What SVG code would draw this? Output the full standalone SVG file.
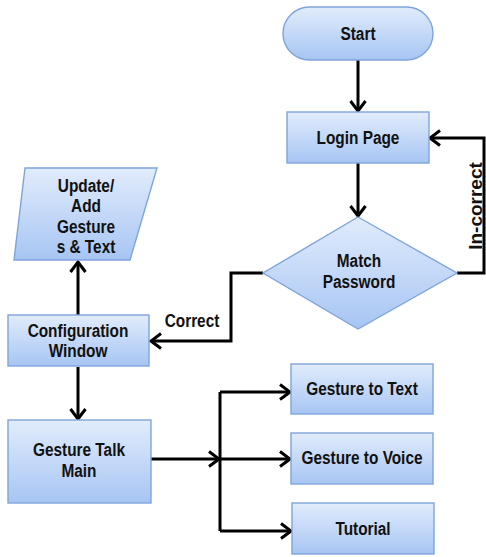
<svg xmlns="http://www.w3.org/2000/svg" width="486" height="557" viewBox="0 0 486 557">
<defs>
<linearGradient id="g" x1="0" y1="0" x2="0" y2="1">
<stop offset="0" stop-color="#e1ecfc"/>
<stop offset="1" stop-color="#a7c5f3"/>
</linearGradient>
<marker id="ah" markerUnits="userSpaceOnUse" markerWidth="14" markerHeight="18" viewBox="0 0 14 18" refX="12" refY="9" orient="auto">
<path d="M2,1.5 L12,9 L2,16.5" fill="none" stroke="#000" stroke-width="3" stroke-linejoin="miter"/>
</marker>
</defs>
<style>
.n{fill:url(#g);stroke:#7fa4dc;stroke-width:1.4}
.t{font-family:"Liberation Sans",Arial,sans-serif;font-weight:bold;font-size:19px;fill:#111;text-anchor:middle}
.c{fill:none;stroke:#000;stroke-width:3}
.a{marker-end:url(#ah)}
</style>
<rect width="486" height="557" fill="#fff"/>
<g id="connectors">
<path class="c a" d="M358,60 V111"/>
<path class="c a" d="M358,163 V216"/>
<path class="c a" d="M457,273 H484 V138 H430"/>
<path class="c a" d="M263,273 H231 V341 H151"/>
<path class="c a" d="M78,316 V262"/>
<path class="c a" d="M78,367 V419"/>
<path class="c a" d="M151,459 H219"/>
<path class="c" d="M220,392 V531"/>
<path class="c a" d="M220,392 H290"/>
<path class="c a" d="M220,459 H290"/>
<path class="c a" d="M220,531 H291"/>
<text class="t" transform="translate(482,206) rotate(-90)">In-correct</text>
<text class="t" transform="translate(192,327) scale(0.81,1)">Correct</text>
</g>
<g id="start">
<rect class="n" x="283" y="7" width="150" height="53" rx="26.5"/>
<text class="t" transform="translate(358,40) scale(0.81,1)">Start</text>
</g>
<g id="login">
<rect class="n" x="287" y="112" width="142" height="51"/>
<text class="t" transform="translate(358,144) scale(0.81,1)">Login Page</text>
</g>
<g id="match">
<polygon class="n" points="358,217 457,273 358,329 263,273"/>
<text class="t" transform="translate(359,267) scale(0.81,1)">Match</text>
<text class="t" transform="translate(359,288) scale(0.81,1)">Password</text>
</g>
<g id="update">
<polygon class="n" points="25,168 157,168 130,260 14,260"/>
<text class="t" transform="translate(86,192) scale(0.81,1)">Update/</text>
<text class="t" transform="translate(86,212) scale(0.81,1)">Add</text>
<text class="t" transform="translate(86,233) scale(0.81,1)">Gesture</text>
<text class="t" transform="translate(86,253) scale(0.81,1)">s &amp; Text</text>
</g>
<g id="config">
<rect class="n" x="8" y="315" width="141" height="51"/>
<text class="t" transform="translate(78,337) scale(0.81,1)">Configuration</text>
<text class="t" transform="translate(78,357) scale(0.81,1)">Window</text>
</g>
<g id="main">
<rect class="n" x="8" y="420" width="143" height="83"/>
<text class="t" transform="translate(79,456) scale(0.81,1)">Gesture Talk</text>
<text class="t" transform="translate(79,477) scale(0.81,1)">Main</text>
</g>
<g id="g2text">
<rect class="n" x="291" y="364" width="142" height="50"/>
<text class="t" transform="translate(362,395) scale(0.81,1)">Gesture to Text</text>
</g>
<g id="g2voice">
<rect class="n" x="291" y="433" width="142" height="51"/>
<text class="t" transform="translate(362,464) scale(0.81,1)">Gesture to Voice</text>
</g>
<g id="tutorial">
<rect class="n" x="292" y="503" width="142" height="51"/>
<text class="t" transform="translate(363,535) scale(0.81,1)">Tutorial</text>
</g>
</svg>
